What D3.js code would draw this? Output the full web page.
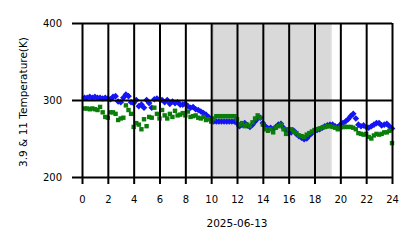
<!DOCTYPE html>
<html><head><meta charset="utf-8">
<script src="https://cdn.jsdelivr.net/npm/d3@7"></script>
<style>html,body{margin:0;padding:0;background:#fff;}svg{display:block;font-family:"DejaVu Sans",sans-serif;}</style>
</head><body>
<script>
const hours = [0.2,0.4,0.6,0.8,1.0,1.2,1.4,1.6,1.8,2.0,2.2,2.4,2.6,2.8,3.0,3.2,3.4,3.6,3.8,4.0,
4.2,4.4,4.6,4.8,5.0,5.2,5.4,5.6,5.8,6.0,6.2,6.4,6.6,6.8,7.0,7.2,7.4,7.6,7.8,8.0,
8.2,8.4,8.6,8.8,9.0,9.2,9.4,9.6,9.8,10.0,10.2,10.4,10.6,10.8,11.0,11.2,11.4,11.6,11.8,12.0,
12.2,12.4,12.6,12.8,13.0,13.2,13.4,13.6,13.8,14.0,14.2,14.4,14.6,14.8,15.0,15.2,15.4,15.6,15.8,16.0,
16.2,16.4,16.6,16.8,17.0,17.2,17.4,17.6,17.8,18.0,18.2,18.4,18.6,18.8,19.0,19.2,19.4,19.6,19.8,20.0,
20.2,20.4,20.6,20.8,21.0,21.2,21.4,21.6,21.8,22.0,22.2,22.4,22.6,22.8,23.0,23.2,23.4,23.6,23.8,24.0];
const temp39 = [303,303,304,303,304,303,303,302,303,302,301,304,305,298,297,303,307,305,297,296,
300,292,294,290,300,296,290,301,302,301,300,297,300,295,298,296,297,294,294,295,
292,290,291,288,287,285,283,281,278,275,272,272,272,272,272,272,272,272,272,270,
266,268,270,267,265,268,272,276,277,270,266,263,264,262,265,268,269,264,260,257,
258,260,256,253,251,249,250,254,257,259,261,262,264,266,267,268,268,266,265,268,
270,272,275,279,282,276,268,266,267,265,264,266,268,270,270,267,268,269,266,263];
const temp11 = [289,289,288,289,288,287,291,284,278,277,284,284,282,274,276,277,293,287,282,265,
270,268,262,275,266,278,277,290,282,276,287,280,276,282,278,286,280,281,283,280,
285,278,279,280,277,276,278,274,275,272,276,279,279,279,279,279,279,279,279,275,
268,270,266,268,266,271,276,280,277,268,262,260,262,258,264,266,268,262,256,262,
262,259,257,254,253,252,255,257,259,261,262,263,264,265,266,266,265,264,262,264,
265,265,265,265,264,262,257,256,255,256,252,250,254,256,255,256,258,258,260,244];
const xTicks = [0,2,4,6,8,10,12,14,16,18,20,22,24];
const yTicks = [200,300,400];
const nightSpan = [10.12, 19.33];
const xLabel = "2025-06-13";
const yLabel = "3.9 & 11 Temperature(K)";

const W = 418, H = 248;
const svg = d3.select("body").append("svg").attr("width", W).attr("height", H);
const x = d3.scaleLinear().domain([0, 24]).range([82, 392]);
const y = d3.scaleLinear().domain([200, 400]).range([177, 23]);

// night shading
svg.append("rect")
  .attr("x", x(nightSpan[0])).attr("y", y(400))
  .attr("width", x(nightSpan[1]) - x(nightSpan[0])).attr("height", y(200) - y(400))
  .attr("fill", "#d9d9d9");
svg.append("line").attr("x1", x(nightSpan[0]) + 0.5).attr("x2", x(nightSpan[0]) + 0.5)
  .attr("y1", y(400)).attr("y2", y(200)).attr("stroke", "#c6c6c6").attr("stroke-width", 1.5);
svg.append("line").attr("x1", x(nightSpan[1]) - 0.5).attr("x2", x(nightSpan[1]) - 0.5)
  .attr("y1", y(400)).attr("y2", y(200)).attr("stroke", "#e4e4e4").attr("stroke-width", 1.5);

// data
const blue = hours.map((h, i) => [h, temp39[i]]);
const green = hours.map((h, i) => [h, temp11[i]]);
const dm = 3.3;
svg.append("g").selectAll("path").data(blue).join("path")
  .attr("transform", d => `translate(${x(d[0])},${y(d[1])})`)
  .attr("d", `M0,${-dm}L${dm},0L0,${dm}L${-dm},0Z`)
  .attr("fill", "#1414f5");
svg.append("g").selectAll("rect").data(green).join("rect")
  .attr("x", d => x(d[0]) - 2.2).attr("y", d => y(d[1]) - 2.2)
  .attr("width", 4.4).attr("height", 4.4).attr("fill", "#0a7d0a");

// grid & axes (drawn on top)
const xAxis = d3.axisBottom(x).tickValues(xTicks).tickSize(y(200) - y(400) + 7).tickPadding(12).tickFormat(d3.format("d"));
const gx = svg.append("g").attr("transform", `translate(0,${y(400)})`).call(xAxis);
gx.select(".domain").remove();
gx.selectAll(".tick line").attr("stroke", "#000").attr("stroke-width", 2);
gx.selectAll(".tick text").attr("font-size", 10).attr("fill", "#000")
  .attr("font-family", "DejaVu Sans");

const yAxis = d3.axisLeft(y).tickValues(yTicks).tickSize(-(x(24) - x(0)) - 10).tickPadding(8).tickFormat(d3.format("d"));
const gy = svg.append("g").attr("transform", `translate(${x(0) - 10},0)`).call(yAxis);
gy.select(".domain").remove();
gy.selectAll(".tick line").attr("stroke", "#000").attr("stroke-width", 2).attr("x1", 0).attr("x2", x(24) - x(0) + 10);
gy.selectAll(".tick text").attr("font-size", 10).attr("fill", "#000").attr("x", -10)
  .attr("font-family", "DejaVu Sans");

svg.append("text").attr("x", x(12)).attr("y", 227).attr("text-anchor", "middle")
  .attr("font-size", 10.5).attr("fill", "#000").text(xLabel);
svg.append("text").attr("transform", `translate(27,${y(300) + 2}) rotate(-90)`)
  .attr("text-anchor", "middle").attr("font-size", 10.5).attr("fill", "#000").text(yLabel);
</script>
</body></html>
